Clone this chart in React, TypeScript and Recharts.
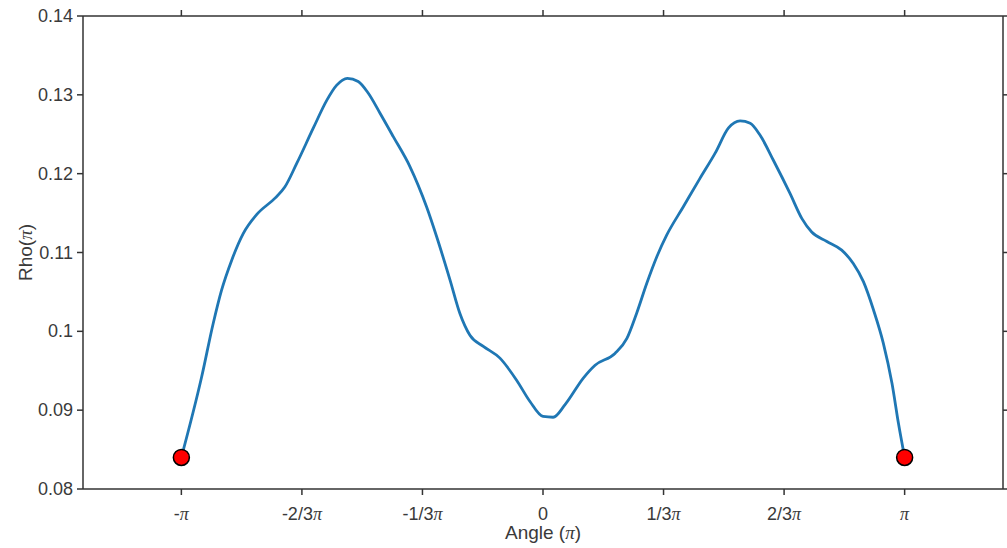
import React from 'react';
import { ComposedChart, Line, Scatter, XAxis, YAxis } from 'recharts';

// angle in units of pi, rho
const angle = [
  -1.0, -0.944, -0.912, -0.889, -0.861, -0.829, -0.792, -0.741, -0.714, -0.681,
  -0.635, -0.598, -0.571, -0.541, -0.511, -0.483, -0.451, -0.414, -0.368, -0.322,
  -0.294, -0.257, -0.23, -0.202, -0.165, -0.119, -0.073, -0.036, 0.0, 0.028,
  0.061, 0.112, 0.144, 0.199, 0.232, 0.259, 0.287, 0.315, 0.342, 0.388,
  0.434, 0.476, 0.513, 0.545, 0.573, 0.6, 0.637, 0.683, 0.716, 0.743,
  0.785, 0.826, 0.858, 0.886, 0.914, 0.941, 0.965, 0.983, 1.0,
];
const rho = [
  0.084, 0.0942, 0.101, 0.1052, 0.109, 0.1124, 0.1148, 0.1169, 0.1183, 0.1213,
  0.1258, 0.1293, 0.1312, 0.1321, 0.1317, 0.1302, 0.1277, 0.1247, 0.1209, 0.1158,
  0.112, 0.1065, 0.1023, 0.0995, 0.0981, 0.0966, 0.0938, 0.0911, 0.0892, 0.0891,
  0.0907, 0.0941, 0.0957, 0.0972, 0.0991, 0.1023, 0.1061, 0.1095, 0.1122, 0.1158,
  0.1194, 0.1226, 0.1258, 0.1267, 0.1264, 0.1249, 0.1217, 0.1175, 0.1143, 0.1126,
  0.1114, 0.1103, 0.1086, 0.1063, 0.1027, 0.0985, 0.0934, 0.0883, 0.084,
];

const endAngle = [-1, 1];
const endRho = [0.084, 0.084];

const xTicks = [-1, -2 / 3, -1 / 3, 0, 1 / 3, 2 / 3, 1];
const xTickLabels = ['-π', '-2/3π', '-1/3π', '0', '1/3π', '2/3π', 'π'];
const yTicks = [0.08, 0.09, 0.1, 0.11, 0.12, 0.13, 0.14];

const curve = angle.map((a, i) => ({ angle: a, rho: rho[i] }));
const ends = endAngle.map((a, i) => ({ angle: a, rho: endRho[i] }));

const SANS = '"Liberation Sans", Arial, sans-serif';
const SERIF = '"Liberation Serif", "Times New Roman", serif';
const TEXT = '#3a3a3a';
const AXIS = '#333333';

// renders a label where every "π" is set in serif italic
function withPi(text: string) {
  const parts = text.split('π');
  const out: React.ReactNode[] = [];
  parts.forEach((p, i) => {
    if (p) out.push(<tspan key={'t' + i}>{p}</tspan>);
    if (i < parts.length - 1)
      out.push(
        <tspan key={'p' + i} fontFamily={SERIF} fontStyle="italic">
          π
        </tspan>
      );
  });
  return out;
}

const XTick = (props: any) => {
  const { x, y, payload } = props;
  const idx = xTicks.findIndex((t) => Math.abs(t - payload.value) < 1e-6);
  const label = idx >= 0 ? xTickLabels[idx] : '';
  return (
    <text x={x} y={y + 23} textAnchor="middle" fontSize={18} fontFamily={SANS} fill={TEXT}>
      {withPi(label)}
    </text>
  );
};

const YTick = (props: any) => {
  const { x, y, payload } = props;
  return (
    <text x={x - 2} y={y + 6} textAnchor="end" fontSize={18} fontFamily={SANS} fill={TEXT}>
      {String(Number(payload.value.toFixed(2)))}
    </text>
  );
};

const NoTick = () => <g />;

const XLabel = (props: any) => {
  const vb = props.viewBox;
  return (
    <text x={vb.x + vb.width / 2} y={539} textAnchor="middle" fontSize={19} fontFamily={SANS} fill={TEXT}>
      {withPi('Angle (π)')}
    </text>
  );
};

const YLabel = (props: any) => {
  const vb = props.viewBox;
  const cy = vb.y + vb.height / 2;
  return (
    <text
      x={32}
      y={cy}
      transform={`rotate(-90 32 ${cy})`}
      textAnchor="middle"
      fontSize={19}
      fontFamily={SANS}
      fill={TEXT}
    >
      {withPi('Rho(π)')}
    </text>
  );
};

const EndDot = (props: any) => (
  <circle cx={props.cx} cy={props.cy} r={8} fill="#ff0000" stroke="#000" strokeWidth={1.5} />
);

export default function App() {
  return (
    <div style={{ position: 'absolute', left: 0, top: 0, background: '#fff' }}>
      <ComposedChart width={1007} height={548} data={curve} margin={{ top: 15, right: 0, left: 0, bottom: 0 }}>
        <XAxis
          dataKey="angle"
          type="number"
          domain={[-1.272, 1.272]}
          ticks={xTicks}
          interval={0}
          allowDataOverflow
          height={59}
          tick={<XTick />}
          tickSize={6}
          stroke={AXIS}
          strokeWidth={1.5}
          label={<XLabel />}
        />
        <XAxis
          xAxisId="top"
          orientation="top"
          dataKey="angle"
          type="number"
          domain={[-1.272, 1.272]}
          ticks={xTicks}
          interval={0}
          allowDataOverflow
          height={1}
          tick={<NoTick />}
          tickSize={6}
          stroke={AXIS}
          strokeWidth={1.5}
        />
        <YAxis
          dataKey="rho"
          type="number"
          domain={[0.08, 0.14]}
          ticks={yTicks}
          interval={0}
          allowDataOverflow
          width={83}
          tick={<YTick />}
          tickSize={6}
          stroke={AXIS}
          strokeWidth={1.5}
          label={<YLabel />}
        />
        <YAxis
          yAxisId="right"
          orientation="right"
          type="number"
          domain={[0.08, 0.14]}
          ticks={yTicks}
          interval={0}
          allowDataOverflow
          width={4}
          tick={<NoTick />}
          tickSize={6}
          stroke={AXIS}
          strokeWidth={1.5}
        />
        <Line
          dataKey="rho"
          type="monotone"
          stroke="#1f77b4"
          strokeWidth={2.8}
          dot={false}
          activeDot={false}
          isAnimationActive={false}
        />
        <Scatter data={ends} dataKey="rho" shape={<EndDot />} isAnimationActive={false} />
      </ComposedChart>
    </div>
  );
}
